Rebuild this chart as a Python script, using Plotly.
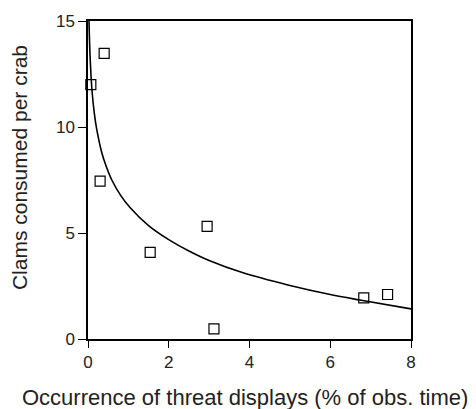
import plotly.graph_objects as go

# Observed points
threat_pct = [0.07, 0.40, 0.30, 1.54, 2.95, 3.12, 6.83, 7.42]
clams = [12.0, 13.47, 7.45, 4.09, 5.31, 0.48, 1.94, 2.10]

# Fitted curve, points
curve_x = [0.025, 0.05, 0.1, 0.16, 0.22, 0.34, 0.45, 0.59, 0.8, 1.04, 1.5, 2.03, 2.5, 3.0, 3.84, 4.95, 6.0, 6.73, 8.0]
curve_y = [15.0, 13.4, 11.7, 10.6, 9.85, 8.8, 8.15, 7.5, 6.8, 6.2, 5.35, 4.65, 4.15, 3.7, 3.12, 2.55, 2.1, 1.84, 1.42]

x_ticks = [0, 2, 4, 6, 8]
y_ticks = [0, 5, 10, 15]

font = "Liberation Sans, Arial, sans-serif"
txt = "#222222"

fig = go.Figure()
fig.add_trace(go.Scatter(x=curve_x, y=curve_y, mode="lines",
                         line=dict(color="black", width=1.6, shape="spline", smoothing=1.0),
                         showlegend=False, cliponaxis=True))
fig.add_trace(go.Scatter(x=threat_pct, y=clams, mode="markers",
                         marker=dict(symbol="square-open", size=10, color="black",
                                     line=dict(width=1.2)),
                         showlegend=False, cliponaxis=False))

axis_common = dict(showgrid=False, zeroline=False, showline=True, linecolor="black",
                   linewidth=1.5, mirror=True, ticks="outside", tickcolor="black",
                   tickwidth=1.3, tickfont=dict(family=font, size=17, color=txt))

fig.update_xaxes(range=[0, 8], tickvals=x_ticks, ticklen=7, **axis_common)
fig.update_yaxes(range=[0, 15], tickvals=y_ticks, ticklen=8, **axis_common)

fig.add_annotation(text="Occurrence of threat displays (% of obs. time)",
                   xref="paper", yref="paper", x=(245 - 88) / 323, y=-(398 - 339) / 320,
                   xanchor="center", yanchor="middle", showarrow=False,
                   font=dict(family=font, size=22, color=txt))
fig.add_annotation(text="Clams consumed per crab", textangle=-90,
                   xref="paper", yref="paper", x=-(88 - 19) / 323, y=(339 - 167) / 320,
                   xanchor="center", yanchor="middle", showarrow=False,
                   font=dict(family=font, size=21, color=txt))

fig.update_layout(width=476, height=409, margin=dict(l=88, r=65, t=19, b=70),
                  plot_bgcolor="white", paper_bgcolor="white")

fig.write_html("out.html")
